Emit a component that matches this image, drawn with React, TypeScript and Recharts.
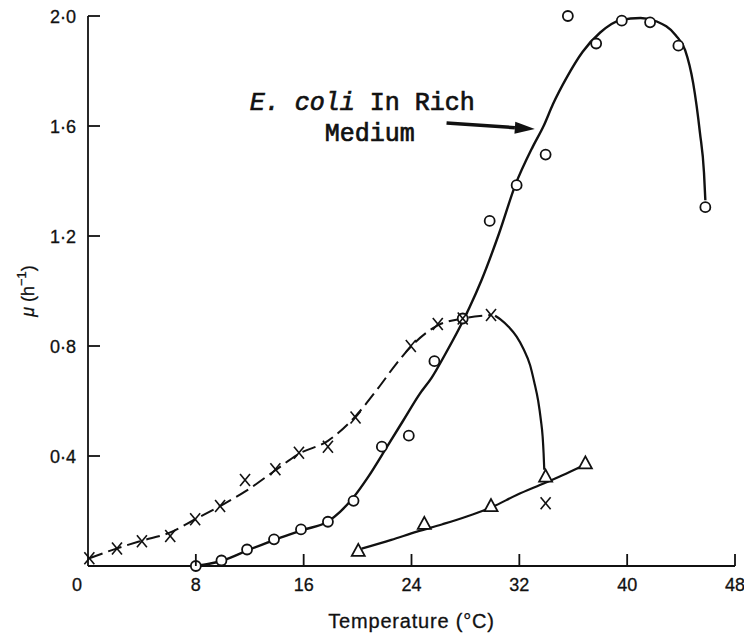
import {
  ComposedChart,
  Line,
  Scatter,
  XAxis,
  YAxis,
  ReferenceLine,
  ReferenceDot,
} from 'recharts';

// Temperature (°C) vs specific growth rate mu (h^-1)
const tempTicks = [0, 8, 16, 24, 32, 40, 48];
const muTicks = [0.4, 0.8, 1.2, 1.6, 2.0];

// E. coli in rich medium: observed points (circles)
const richObserved: [number, number][] = [
  [8, 0], [9.9, 0.02], [11.8, 0.06], [13.8, 0.097], [15.8, 0.133],
  [17.8, 0.161], [19.7, 0.237], [21.8, 0.434], [23.8, 0.474], [25.7, 0.745],
  [27.8, 0.9], [29.8, 1.255], [31.8, 1.385], [33.95, 1.496], [35.6, 2.0],
  [37.7, 1.9], [39.6, 1.983], [41.7, 1.977], [43.8, 1.892], [45.8, 1.305],
];

// fitted curve through the rich medium points
const richFit: [number, number][] = [
  [8, 0], [9, 0.008], [10, 0.02], [12, 0.06], [14, 0.098], [16, 0.132],
  [17.8, 0.162], [18.7, 0.197], [19.7, 0.25], [20.8, 0.325], [22.2, 0.435],
  [23.4, 0.53], [24.6, 0.625], [25.5, 0.685], [26.5, 0.77], [27.6, 0.87],
  [28.3, 0.94], [29.2, 1.04], [30.5, 1.21], [31.7, 1.385], [33, 1.525],
  [33.8, 1.6], [34.5, 1.68], [35.5, 1.775], [36.7, 1.87], [38, 1.94],
  [39.5, 1.985], [41, 1.993], [42.2, 1.98], [43.6, 1.93], [44.3, 1.876],
  [44.9, 1.755], [45.4, 1.575], [45.7, 1.43], [45.8, 1.33],
];

// second organism (crosses)
const crossObserved: [number, number][] = [
  [0.1, 0.028], [2.15, 0.064], [4, 0.09], [6.1, 0.109], [7.95, 0.17],
  [9.8, 0.218], [11.65, 0.313], [13.9, 0.352], [15.65, 0.412], [17.8, 0.434],
  [19.85, 0.54], [23.95, 0.8], [25.95, 0.88], [27.8, 0.9], [29.9, 0.913],
  [33.95, 0.228],
];

// dashed curve through the crosses
const crossFit: [number, number][] = [
  [0.1, 0.028], [2.15, 0.064], [4, 0.092], [6.1, 0.122], [7.95, 0.17],
  [9.8, 0.218], [11.7, 0.272], [13.9, 0.348], [15.65, 0.408], [17.8, 0.455],
  [19.85, 0.545], [21.5, 0.645], [22.9, 0.737], [24, 0.8], [25.95, 0.875],
  [27.8, 0.9], [29.9, 0.913],
];

// solid fall-off after the optimum of the crosses
const crossDecline: [number, number][] = [
  [30.2, 0.91], [30.6, 0.897], [31.2, 0.87], [31.8, 0.834], [32.3, 0.79],
  [32.8, 0.73], [33.1, 0.67], [33.4, 0.6], [33.6, 0.53], [33.73, 0.47],
  [33.8, 0.41], [33.85, 0.35],
];

// third organism (triangles)
const triangleObserved: [number, number][] = [
  [20.05, 0.055], [24.95, 0.153], [29.9, 0.218], [33.95, 0.325], [36.9, 0.373],
];

const triangleFit: [number, number][] = [
  [20.3, 0.063], [22.5, 0.095], [24.4, 0.125], [26.3, 0.152], [28.1, 0.18],
  [30, 0.215], [31.8, 0.258], [33.8, 0.3], [35.2, 0.33], [36.6, 0.362],
];

const annotationAnchor = { t: 12.0, mu: 1.658 };
const arrowFrom = { t: 26.6, mu: 1.611 };
const arrowTo = { t: 33.15, mu: 1.589 };

const toPoints = (pairs: [number, number][]) => pairs.map(([t, mu]) => ({ t, mu }));

const INK = '#111';
const SANS = '"Liberation Sans", Arial, sans-serif';
const MONO = '"Liberation Mono", "Courier New", monospace';

const XTick = (props: any) => {
  const { x, y, payload } = props;
  const v = payload.value;
  return (
    <g>
      {v !== 0 && <line x1={x} y1={y} x2={x} y2={y - 12} stroke={INK} strokeWidth={1.8} />}
      <text x={v === 0 ? x - 11 : x} y={y + 25} textAnchor="middle" fontFamily={SANS} fontSize={18} fill={INK} stroke={INK} strokeWidth={0.3}>
        {v}
      </text>
    </g>
  );
};

const YTick = (props: any) => {
  const { x, y, payload } = props;
  return (
    <g>
      <line x1={x} y1={y} x2={x + 12} y2={y} stroke={INK} strokeWidth={1.8} />
      <text x={x - 12} y={y + 6.5} textAnchor="end" fontFamily={SANS} fontSize={18} fill={INK} stroke={INK} strokeWidth={0.3}>
        {Number(payload.value).toFixed(1).replace('.', '·')}
      </text>
    </g>
  );
};

const Circle = (props: any) => (
  <circle cx={props.cx} cy={props.cy} r={5} fill="#fff" stroke={INK} strokeWidth={1.8} />
);

const Cross = (props: any) => {
  const { cx, cy } = props;
  return (
    <g stroke={INK} strokeWidth={1.6}>
      <line x1={cx - 5} y1={cy - 6} x2={cx + 5} y2={cy + 6} />
      <line x1={cx + 5} y1={cy - 6} x2={cx - 5} y2={cy + 6} />
    </g>
  );
};

const Triangle = (props: any) => {
  const { cx, cy } = props;
  return (
    <polygon
      points={`${cx},${cy - 7} ${cx - 6.5},${cy + 5} ${cx + 6.5},${cy + 5}`}
      fill="#fff"
      stroke={INK}
      strokeWidth={1.8}
    />
  );
};

const Arrow = (props: any) => {
  const { x1, y1, x2, y2 } = props;
  const len = Math.hypot(x2 - x1, y2 - y1);
  const ux = (x2 - x1) / len;
  const uy = (y2 - y1) / len;
  const bx = x2 - ux * 20;
  const by = y2 - uy * 20;
  return (
    <g>
      <line x1={x1} y1={y1} x2={bx} y2={by} stroke={INK} strokeWidth={3.5} />
      <polygon
        points={`${x2},${y2} ${bx - uy * 6},${by + ux * 6} ${bx + uy * 6},${by - ux * 6}`}
        fill={INK}
      />
    </g>
  );
};

const Annotation = (props: any) => {
  const { cx, cy } = props;
  return (
    <text x={cx} y={cy} fontFamily={MONO} fontSize={25} fill={INK} stroke={INK} strokeWidth={0.7}>
      <tspan fontStyle="italic">E. coli</tspan>
      <tspan> In Rich</tspan>
      <tspan x={cx + 75} y={cy + 31}>Medium</tspan>
    </text>
  );
};

const YTitle = (props: any) => {
  const { viewBox } = props;
  const cx = viewBox.x + 28;
  const cy = viewBox.y + viewBox.height / 2;
  return (
    <text x={cx} y={cy} transform={`rotate(-90 ${cx} ${cy})`} textAnchor="middle" dominantBaseline="central" fontFamily={SANS} fontSize={18} fill={INK} stroke={INK} strokeWidth={0.3}>
      <tspan fontStyle="italic">μ</tspan>
      <tspan> (h</tspan>
      <tspan dy={-7} fontSize={13}>−1</tspan>
      <tspan dy={7}>)</tspan>
    </text>
  );
};

const XTitle = (props: any) => {
  const { viewBox } = props;
  return (
    <text x={viewBox.x + viewBox.width / 2} y={viewBox.y + 62} textAnchor="middle" fontFamily={SANS} fontSize={20} letterSpacing={0.8} fill={INK} stroke={INK} strokeWidth={0.3}>
      Temperature (°C)
    </text>
  );
};

export default function App() {
  return (
    <div style={{ position: 'absolute', left: 0, top: 0, width: 744, height: 635, background: '#fff' }}>
      <ComposedChart width={744} height={635} margin={{ top: 16, right: 9, bottom: 0, left: 0 }}>
        <XAxis
          type="number"
          dataKey="t"
          domain={[0, 48]}
          ticks={tempTicks}
          height={69}
          tickSize={0}
          tickMargin={0}
          tickLine={false}
          axisLine={{ stroke: INK, strokeWidth: 1.8 }}
          tick={<XTick />}
          label={<XTitle />}
        />
        <YAxis
          type="number"
          dataKey="mu"
          domain={[0, 2]}
          ticks={muTicks}
          width={88}
          tickSize={0}
          tickMargin={0}
          tickLine={false}
          axisLine={{ stroke: INK, strokeWidth: 1.8 }}
          tick={<YTick />}
          label={<YTitle />}
        />

        <Line data={toPoints(crossFit)} dataKey="mu" type="monotone" stroke={INK} strokeWidth={2} strokeDasharray="14 6" dot={false} activeDot={false} isAnimationActive={false} />
        <Line data={toPoints(crossDecline)} dataKey="mu" type="monotone" stroke={INK} strokeWidth={2.2} dot={false} activeDot={false} isAnimationActive={false} />
        <Line data={toPoints(triangleFit)} dataKey="mu" type="monotone" stroke={INK} strokeWidth={2.2} dot={false} activeDot={false} isAnimationActive={false} />
        <Line data={toPoints(richFit)} dataKey="mu" type="monotone" stroke={INK} strokeWidth={2.4} dot={false} activeDot={false} isAnimationActive={false} />

        <Scatter data={toPoints(richObserved)} dataKey="mu" shape={<Circle />} isAnimationActive={false} />
        <Scatter data={toPoints(crossObserved)} dataKey="mu" shape={<Cross />} isAnimationActive={false} />
        <Scatter data={toPoints(triangleObserved)} dataKey="mu" shape={<Triangle />} isAnimationActive={false} />

        <ReferenceLine
          segment={[{ x: arrowFrom.t, y: arrowFrom.mu }, { x: arrowTo.t, y: arrowTo.mu }]}
          shape={<Arrow />}
        />
        <ReferenceDot x={annotationAnchor.t} y={annotationAnchor.mu} r={0} shape={<Annotation />} />
      </ComposedChart>
    </div>
  );
}
